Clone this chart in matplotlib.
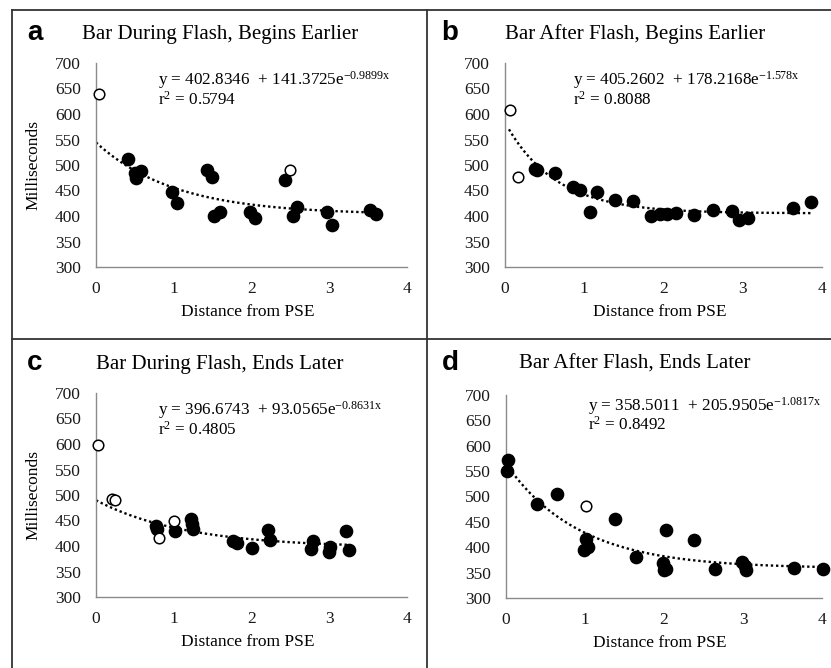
import numpy as np
import matplotlib.pyplot as plt
from matplotlib.lines import Line2D

plt.rcParams['font.family'] = 'Liberation Serif'
plt.rcParams['mathtext.fontset'] = 'custom'
plt.rcParams['mathtext.rm'] = 'Liberation Serif'
plt.rcParams['mathtext.it'] = 'Liberation Serif:italic'

# ---- panel a: Bar During Flash, Begins Earlier
a_x = [0.41, 0.50, 0.58, 0.52, 0.98, 1.04, 1.43, 1.49, 1.52, 1.60, 1.98, 2.05,
       2.43, 2.59, 2.53, 2.97, 3.03, 3.53, 3.60]
a_y = [511, 484, 488, 474, 448, 426, 490, 476, 400, 408, 407, 396,
       471, 418, 400, 408, 383, 411, 404]
a_open_x = [0.04, 2.49]
a_open_y = [639, 490]
a_fit = (402.8346, 141.3725, 0.9899, 0.0, 3.55)
a_eq = ('402.8346', '141.3725', '-0.9899x', '0.5794')

# ---- panel b: Bar After Flash, Begins Earlier
b_x = [0.38, 0.40, 0.63, 0.86, 0.95, 1.07, 1.16, 1.39, 1.61, 1.84, 1.95, 2.05,
       2.16, 2.39, 2.62, 2.87, 2.95, 3.06, 3.63, 3.86]
b_y = [492, 490, 484, 456, 451, 407, 448, 431, 430, 400, 403, 403,
       405, 402, 411, 409, 393, 397, 415, 428]
b_open_x = [0.06, 0.16]
b_open_y = [607, 476]
b_fit = (405.2602, 178.2168, 1.578, 0.05, 3.86)
b_eq = ('405.2602', '178.2168', '-1.578x', '0.8088')

# ---- panel c: Bar During Flash, Ends Later
c_x = [0.77, 0.78, 1.02, 1.22, 1.23, 1.25, 1.76, 1.81, 2.01, 2.21, 2.24,
       2.79, 2.76, 3.01, 3.00, 3.22, 3.25]
c_y = [440, 434, 429, 453, 443, 434, 410, 405, 396, 431, 411,
       410, 395, 398, 389, 429, 392]
c_open_x = [0.02, 0.21, 0.24, 0.81, 1.00]
c_open_y = [598, 493, 490, 416, 449]
c_fit = (396.6743, 93.0565, 0.8631, 0.0, 3.25)
c_eq = ('396.6743', '93.0565', '-0.8631x', '0.4805')

# ---- panel d: Bar After Flash, Ends Later
d_x = [0.03, 0.01, 0.39, 0.65, 1.01, 1.04, 0.99, 1.38, 1.64, 2.02, 1.99, 2.03,
       2.00, 2.38, 2.65, 2.99, 3.04, 3.02, 3.64, 4.01]
d_y = [572, 550, 486, 504, 417, 401, 394, 455, 381, 434, 368, 357,
       355, 414, 358, 371, 355, 363, 359, 358]
d_open_x = [1.01]
d_open_y = [482]
d_fit = (358.5011, 205.9505, 1.0817, 0.0, 4.0)
d_eq = ('358.5011', '205.9505', '-1.0817x', '0.8492')

W, H = 831, 668
fig = plt.figure(figsize=(W / 100, H / 100), dpi=100)


def fx(px):
    return px / W


def fy(py):
    return 1 - py / H


panels = [
    # letter, title, box (l, r, top, bottom px), data, open, fit, eq, eq pos, ylabel
    ('a', 'Bar During Flash, Begins Earlier', (96, 407, 63, 267), (a_x, a_y),
     (a_open_x, a_open_y), a_fit, a_eq, (0.80, 667, 627), True),
    ('b', 'Bar After Flash, Begins Earlier', (505, 822, 63, 267), (b_x, b_y),
     (b_open_x, b_open_y), b_fit, b_eq, (0.86, 667, 627), False),
    ('c', 'Bar During Flash, Ends Later', (96, 407, 393, 597), (c_x, c_y),
     (c_open_x, c_open_y), c_fit, c_eq, (0.80, 667, 627), True),
    ('d', 'Bar After Flash, Ends Later', (506, 822, 395, 598), (d_x, d_y),
     (d_open_x, d_open_y), d_fit, d_eq, (1.04, 678, 641), False),
]

for letter, title, box, filled, opened, fit, eq, eqpos, ylab in panels:
    l, r, t, b = box
    ax = fig.add_axes([fx(l), fy(b), fx(r) - fx(l), fy(t) - fy(b)])
    ax.set_xlim(0, 4)
    ax.set_ylim(300, 700)
    ax.set_xticks([0, 1, 2, 3, 4])
    ax.set_yticks(range(300, 701, 50))
    ax.tick_params(length=0, labelsize=12.5, colors='#1a1a1a')
    ax.tick_params(axis='y', pad=11)
    ax.tick_params(axis='x', pad=10)
    for s in ['top', 'right']:
        ax.spines[s].set_visible(False)
    for s in ['left', 'bottom']:
        ax.spines[s].set_color('#8a8a8a')
        ax.spines[s].set_linewidth(1.0)
    ax.patch.set_alpha(0)

    c0, c1, k, x0, x1 = fit
    xs = np.linspace(x0, x1, 200)
    ax.plot(xs, c0 + c1 * np.exp(-k * xs), color='black', lw=1.7,
            linestyle=(0, (1, 1.2)), zorder=2)
    ax.scatter(filled[0], filled[1], s=78, color='black', zorder=3,
               clip_on=False)
    ax.scatter(opened[0], opened[1], s=58, facecolor='white',
               edgecolor='black', linewidth=1.1, zorder=4, clip_on=False)

    ex, ey1, ey2 = eqpos
    ax.text(ex, ey1, 'y = %s  + %se$^{\\mathrm{%s}}$' % (eq[0], eq[1], eq[2]),
            fontsize=12.3, va='center', ha='left')
    ax.text(ex, ey2, 'r$^{\\mathrm{2}}$ = %s' % eq[3],
            fontsize=12.3, va='center', ha='left')

    cx = (l + r) / 2
    fig.text(fx(cx - 4), fy(b + 45), 'Distance from PSE', fontsize=12.5,
             ha='center', va='center')
    if ylab:
        fig.text(fx(33), fy((t + b) / 2), 'Milliseconds', fontsize=12.5,
                 ha='center', va='center', rotation=90)

    # title and panel letter
    ox = 0 if l < 400 else 415
    oy = 0 if t < 300 else 330
    fig.text(fx(ox + 220), fy(oy + 34), title, fontsize=15, ha='center',
             va='center')
    fig.text(fx(ox + 35), fy(oy + 33), letter, fontsize=20, ha='center',
             va='center', family='Liberation Sans', weight='bold')

# panel frame lines
frame = dict(color='#333333', lw=1.3, transform=fig.transFigure)
fig.add_artist(Line2D([fx(12), 1], [fy(10), fy(10)], **frame))
fig.add_artist(Line2D([fx(12), fx(12)], [fy(10), 0], **frame))
fig.add_artist(Line2D([fx(427), fx(427)], [fy(10), 0], **frame))
fig.add_artist(Line2D([fx(12), 1], [fy(339), fy(339)], **frame))

fig.savefig('out.png', dpi=100)
